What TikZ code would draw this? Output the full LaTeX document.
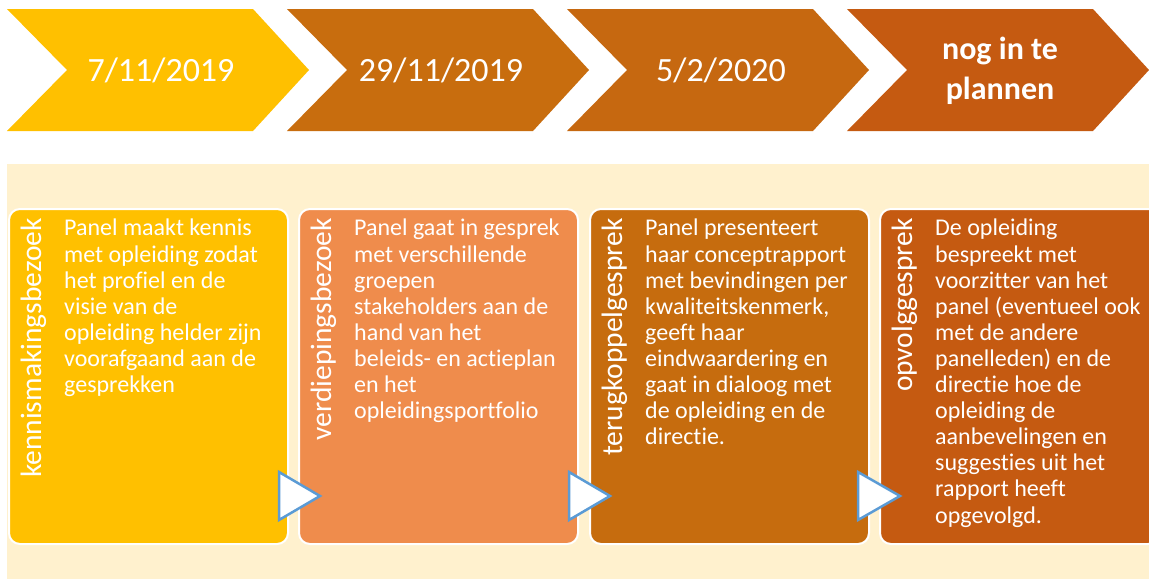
\documentclass[tikz,border=0pt]{standalone}
\usepackage{fontspec}
\setmainfont[Ligatures=NoCommon]{Carlito}
\definecolor{cream}{RGB}{255,241,206}
\definecolor{cA}{RGB}{255,192,0}
\definecolor{cB}{RGB}{200,109,14}
\definecolor{cC}{RGB}{198,104,16}
\definecolor{cD}{RGB}{197,90,17}
\definecolor{bB}{RGB}{239,140,76}
\definecolor{bC}{RGB}{198,108,14}
\definecolor{triblue}{RGB}{91,155,213}
\begin{document}
\begin{tikzpicture}[x=1pt,y=-1pt,
  chevtext/.style={text=white,font=\fontsize{34}{40}\selectfont,align=center,inner sep=0},
  panel/.style={draw=white,line width=2pt,rounded corners=11pt,anchor=north west,minimum width=279pt,minimum height=335pt,inner sep=0},
  lab/.style={text=white,font=\fontsize{29.5}{32}\selectfont,inner sep=0,anchor=base east,rotate=90},
  body/.style={text=white,font=\fontsize{24}{26.1}\selectfont,align=left,inner sep=0,anchor=north west},
  tri/.style={fill=white,draw=triblue,line width=2.5pt,line join=miter}]
\useasboundingbox (0,0) rectangle (1149,581);
\fill[white] (0,0) rectangle (1149,581);
% chevrons
\fill[cA] (7,9) -- ++(246,0) -- ++(56,61) -- ++(-56,61) -- ++(-246,0) -- ++(60,-61) -- cycle;
\fill[cB] (287,9) -- ++(246,0) -- ++(56,61) -- ++(-56,61) -- ++(-246,0) -- ++(60,-61) -- cycle;
\fill[cC] (567,9) -- ++(246,0) -- ++(56,61) -- ++(-56,61) -- ++(-246,0) -- ++(60,-61) -- cycle;
\fill[cD] (847,9) -- ++(246,0) -- ++(56,61) -- ++(-56,61) -- ++(-246,0) -- ++(60,-61) -- cycle;
\node[chevtext] (d1) at (161,70) {7/11/2019};
\node[chevtext] (d2) at (441,70) {29/11/2019};
\node[chevtext] (d3) at (721,70) {5/2/2020};
\node[chevtext,font=\fontsize{32}{40}\selectfont\bfseries] (d4) at (1000,71) {nog in te\\plannen};
% background
\fill[cream] (7,164) rectangle (1149,579);
% panels
\node[panel,fill=cA] (p1) at (8,208) {};
\node[panel,fill=bB] (p2) at (298,208) {};
\node[panel,fill=bC] (p3) at (589,208) {};
\node[panel,fill=cD] (p4) at (879,208) {};
% vertical labels
\node[lab] (l1) at (41,218) {kennismakingsbezoek};
\node[lab] (l2) at (331,218) {verdiepingsbezoek};
\node[lab] (l3) at (622,218) {terugkoppelgesprek};
\node[lab] (l4) at (912,218) {opvolggesprek};
% body texts
\node[body] (t1) at (64,217.5) {\strut Panel maakt kennis\\met opleiding zodat\\het profiel en de\\visie van de\\opleiding helder zijn\\voorafgaand aan de\\gesprekken};
\node[body] (t2) at (354,217.5) {\strut Panel gaat in gesprek\\met verschillende\\groepen\\stakeholders aan de\\hand van het\\beleids- en actieplan\\en het\\opleidingsportfolio};
\node[body] (t3) at (645,217.5) {\strut Panel presenteert\\haar conceptrapport\\met bevindingen per\\kwaliteitskenmerk,\\geeft haar\\eindwaardering en\\gaat in dialoog met\\de opleiding en de\\directie.};
\node[body] (t4) at (935,217.5) {\strut De opleiding\\bespreekt met\\voorzitter van het\\panel (eventueel ook\\met de andere\\panelleden) en de\\directie hoe de\\opleiding de\\aanbevelingen en\\suggesties uit het\\rapport heeft\\opgevolgd.};
% arrow triangles
\filldraw[tri] (279,472) -- (279,520) -- (320,496) -- cycle;
\filldraw[tri] (569,472) -- (569,520) -- (610,496) -- cycle;
\filldraw[tri] (858,472) -- (858,520) -- (900,496) -- cycle;
\end{tikzpicture}
\end{document}
